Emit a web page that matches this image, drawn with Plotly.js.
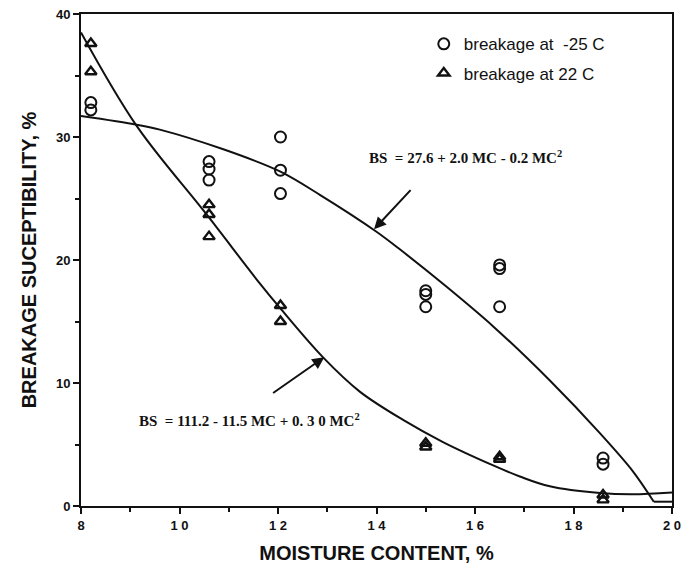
<!DOCTYPE html>
<html>
<head>
<meta charset="utf-8">
<script src="https://cdn.plot.ly/plotly-3.0.1.min.js"></script>
<style>html,body{margin:0;padding:0;background:#fff;}#chart{width:683px;height:570px;}</style>
</head>
<body>
<div id="chart"></div>
<script>
// Observed data: breakage at -25 C (circles)
const coldMC = [8.2, 8.2, 10.6, 10.6, 10.6, 12.05, 12.05, 12.05, 15.0, 15.0, 15.0, 16.5, 16.5, 16.5, 18.6, 18.6];
const coldBS = [32.8, 32.2, 28.0, 27.4, 26.5, 30.0, 27.3, 25.4, 17.5, 17.2, 16.2, 19.6, 19.3, 16.2, 3.9, 3.4];
// Observed data: breakage at 22 C (triangles)
const warmMC = [8.2, 8.2, 10.6, 10.6, 10.6, 12.05, 12.05, 15.0, 15.0, 16.5, 16.5, 18.6, 18.6];
const warmBS = [37.6, 35.3, 24.5, 23.7, 21.9, 16.3, 15.0, 5.1, 4.8, 4.0, 3.8, 0.9, 0.5];
// Fitted curve for -25 C; null splits off the flat tail segment
const coldFitMC = [8.0, 9.13, 9.6, 10.89, 12.04, 12.85, 14.0, 14.48, 15.43, 16.37, 17.52, 18.54, 19.21, 19.63, 19.63, 19.63, 20.0];
const coldFitBS = [31.7, 31.0, 30.6, 29.0, 27.2, 25.3, 22.3, 20.85, 17.8, 14.6, 10.2, 5.9, 2.8, 0.35, null, 0.35, 0.35];
// Fitted curve for 22 C
const warmFitMC = [8.0, 9.13, 10.55, 11.63, 12.04, 12.91, 13.66, 14.54, 15.35, 16.37, 16.91, 17.52, 18.54, 19.2, 20.0];
const warmFitBS = [38.5, 30.9, 23.7, 18.1, 16.1, 12.1, 9.3, 7.0, 5.2, 3.3, 2.4, 1.6, 1.05, 0.95, 1.1];
// Tick labels
const xTickVals = [8, 10, 12, 14, 16, 18, 20];
const xTickText = ["8", "1 0", "1 2", "1 4", "1 6", "1 8", "2 0"];
const yTickVals = [0, 10, 20, 30, 40];
const legendNames = ["breakage at  -25 C", "breakage at 22 C"];

const traces = [
  {x: coldMC, y: coldBS, type: 'scatter', mode: 'markers', name: legendNames[0], legendgroup: 'a',
   marker: {symbol: 'circle-open', size: 11, color: '#111', line: {width: 2, color: '#111'}}, cliponaxis: false},
  {x: warmMC, y: warmBS, type: 'scatter', mode: 'markers', name: legendNames[1], legendgroup: 'b',
   marker: {symbol: 'triangle-up-open', size: 10, color: '#111', line: {width: 2.4, color: '#111'}}, cliponaxis: false},
  {x: coldFitMC, y: coldFitBS, type: 'scatter', mode: 'lines', showlegend: false, connectgaps: false,
   line: {color: '#111', width: 2, shape: 'spline', smoothing: 0.9}},
  {x: warmFitMC, y: warmFitBS, type: 'scatter', mode: 'lines', showlegend: false,
   line: {color: '#111', width: 2, shape: 'spline', smoothing: 1.0}}
];

const layout = {
  width: 683, height: 570,
  margin: {l: 81, r: 11, t: 14, b: 64},
  paper_bgcolor: '#fff', plot_bgcolor: '#fff',
  font: {family: '"Liberation Sans", Arial, sans-serif', color: '#111'},
  showlegend: true,
  legend: {x: 0.58, y: 0.975, xanchor: 'left', yanchor: 'top', bgcolor: 'rgba(0,0,0,0)',
           font: {size: 17, family: '"Liberation Sans", Arial, sans-serif', color: '#111'},
           traceorder: 'grouped', tracegroupgap: 4},
  xaxis: {
    range: [8, 20], tickvals: xTickVals, ticktext: xTickText,
    ticks: 'outside', ticklen: 6, tickwidth: 2, tickcolor: '#111',
    minor: {dtick: 1, ticks: 'outside', ticklen: 4, tickwidth: 2, tickcolor: '#111'},
    showgrid: false, zeroline: false, showline: true, linecolor: '#111', linewidth: 2, mirror: true,
    tickfont: {size: 13, family: '"Liberation Sans", Arial, sans-serif', weight: 'bold'},
    title: {text: '<b>MOISTURE CONTENT, %</b>', font: {size: 20}, standoff: 14}
  },
  yaxis: {
    range: [0, 40], tickvals: yTickVals,
    ticks: 'outside', ticklen: 6, tickwidth: 2, tickcolor: '#111',
    minor: {dtick: 5, ticks: 'outside', ticklen: 4, tickwidth: 2, tickcolor: '#111'},
    showgrid: false, zeroline: false, showline: true, linecolor: '#111', linewidth: 2, mirror: true,
    tickfont: {size: 13, family: '"Liberation Sans", Arial, sans-serif', weight: 'bold'},
    title: {text: '<b>BREAKAGE SUCEPTIBILITY, %</b>', font: {size: 20}, standoff: 14}
  },
  annotations: [
    {x: 15.80, y: 28.4, xref: 'x', yref: 'y', showarrow: false,
     text: '<b>BS  = 27.6 + 2.0 MC - 0.2 MC<sup>2</sup></b>',
     font: {family: '"Liberation Serif", "Times New Roman", serif', size: 15, color: '#111'}},
    {x: 11.43, y: 7.0, xref: 'x', yref: 'y', showarrow: false,
     text: '<b>BS  = 111.2 - 11.5 MC + 0. 3 0 MC<sup>2</sup></b>',
     font: {family: '"Liberation Serif", "Times New Roman", serif', size: 15, color: '#111'}},
    {x: 13.95, y: 22.5, xref: 'x', yref: 'y', ax: 14.72, ay: 25.8, axref: 'x', ayref: 'y',
     showarrow: true, arrowhead: 2, arrowsize: 1.2, arrowwidth: 2, arrowcolor: '#111', text: ''},
    {x: 12.94, y: 12.1, xref: 'x', yref: 'y', ax: 11.87, ay: 9.1, axref: 'x', ayref: 'y',
     showarrow: true, arrowhead: 2, arrowsize: 1.2, arrowwidth: 2, arrowcolor: '#111', text: ''}
  ]
};

Plotly.newPlot('chart', traces, layout, {displayModeBar: false, staticPlot: true});
</script>
</body>
</html>
